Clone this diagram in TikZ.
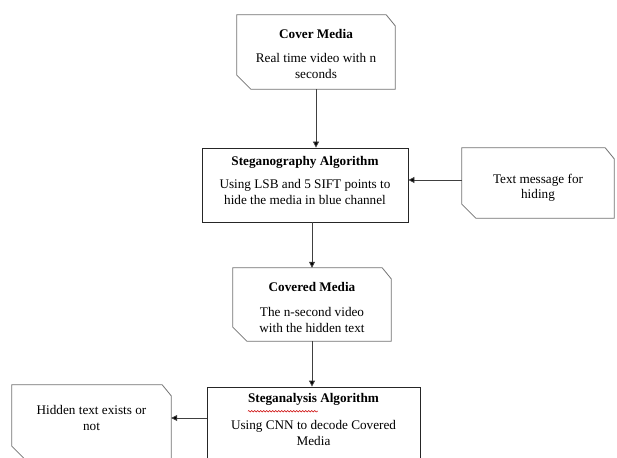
\documentclass[tikz,border=0pt]{standalone}
\usepackage{fontspec}
\setmainfont{Liberation Serif}
\usetikzlibrary{arrows.meta,decorations.pathmorphing}
\newcommand\snipout[1]{%
  \draw[snipline] (#1.north west) -- ([xshift=-9pt]#1.north east) -- ([yshift=-11pt]#1.north east)
    -- (#1.south east) -- ([xshift=14pt]#1.south west) -- ([yshift=14pt]#1.south west) -- cycle;}
\begin{document}
\begin{tikzpicture}[x=1pt,y=-1pt,
  snipline/.style={draw=black!55, line width=0.8pt, line join=miter},
  snip/.style={rectangle, inner sep=0pt, minimum width=#1},
  rbox/.style={draw=black!85, line width=0.8pt, rectangle, inner sep=0pt, minimum width=#1},
  txt/.style={font=\fontsize{13.2}{15.3}\selectfont, align=center, inner sep=0pt},
  hdr/.style={font=\fontsize{13.2}{15.3}\selectfont\bfseries, inner sep=0pt},
  arr/.style={draw=black!75, line width=0.8pt, -{Triangle[length=6pt,width=6pt,fill=black]}}]
\useasboundingbox (0,0) rectangle (617,457);
\fill[white] (0,0) rectangle (617,457);

% boxes
\node[snip=158pt, minimum height=74pt] (cm) at (316,52) {};
\node[rbox=206pt, minimum height=74pt] (sa) at (305,185) {};
\node[snip=152pt, minimum height=70pt] (tm) at (538,183) {};
\node[snip=158pt, minimum height=73pt] (cv) at (312,304.5) {};
\node[rbox=213pt, minimum height=90pt] (an) at (313.5,432) {};
\node[snip=159pt, minimum height=75pt] (ht) at (91.5,422.5) {};
\snipout{cm}
\snipout{tm}
\snipout{cv}
\snipout{ht}

% texts
\node[hdr] (cmh) at (316,34) {Cover Media};
\node[txt] (cmb) at (316,66) {Real time video with n\\seconds};
\node[hdr] (sah) at (305,162) {Steganography Algorithm};
\node[txt] (sab) at (305,192) {Using LSB and 5 SIFT points to\\hide the media in blue channel};
\node[txt] (tmb) at (538,188) {Text message for\\hiding};
\node[hdr] (cvh) at (312,287) {Covered Media};
\node[txt] (cvb) at (312,320) {The n-second video\\with the hidden text};
\node[hdr] (anh) at (313.5,399) {Steganalysis Algorithm};
\node[txt] (anb) at (313.5,433) {Using CNN to decode Covered\\Media};
\node[txt] (htb) at (91.5,418) {Hidden text exists or\\not};

% spellcheck squiggle
\draw[red!80!black, line width=0.5pt, decorate, decoration={snake, amplitude=0.8pt, segment length=3pt}]
  ([yshift=-6pt]anh.south west) -- ++(70,0);

% connectors
\draw[arr] (cm.south) -- (cm.south |- sa.north);
\draw[arr] ([yshift=3pt]tm.west) -- ([yshift=3pt]tm.west -| sa.east);
\draw[arr] (sa.south -| cv.north) -- (cv.north);
\draw[arr] (cv.south) -- (cv.south |- an.north);
\draw[arr] ([yshift=14pt]an.west) -- ([yshift=14pt]an.west -| ht.east);
\end{tikzpicture}
\end{document}
